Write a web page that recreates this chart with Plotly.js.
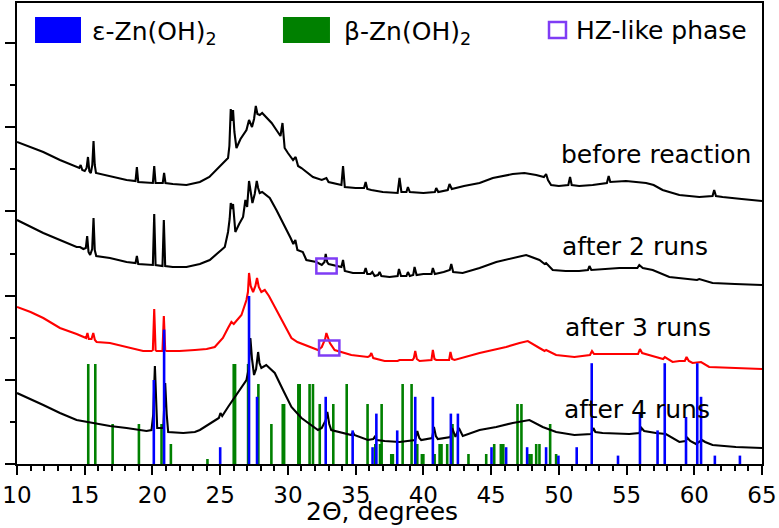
<!DOCTYPE html>
<html>
<head>
<meta charset="utf-8">
<script src="https://cdn.plot.ly/plotly-3.0.1.min.js"></script>
<style>html,body{margin:0;padding:0;background:#fff;}#chart{width:779px;height:528px;}</style>
</head>
<body>
<div id="chart"></div>
<script>
// ---- XRD patterns (2Θ in degrees, intensity in a.u.) ----
const beforeTheta = [10.0,11.0,11.94,13.17,14.4,14.6,14.7,14.82,15.0,15.14,15.24,15.34,15.45,15.56,15.65,15.74,15.83,16.86,18.09,18.75,18.85,18.95,20.03,20.13,20.23,20.76,20.86,20.96,21.5,22.51,23.5,24.2,24.73,25.2,25.58,25.68,25.78,25.87,25.95,26.05,26.2,26.5,26.94,27.13,27.35,27.5,27.63,27.75,27.92,28.1,28.4,28.8,29.15,29.45,29.6,29.7,29.76,30.0,30.38,30.57,30.75,31.0,31.36,31.5,31.85,32.5,32.84,33.0,33.33,33.95,34.07,34.2,35.0,35.62,35.74,35.86,36.16,37.0,38.1,38.24,38.38,38.75,38.86,39.0,40.0,40.85,40.95,41.1,41.8,41.93,42.1,43.0,44.15,45.13,46.6,47.46,48.33,48.9,49.06,49.2,49.43,50.0,50.7,50.83,50.95,51.5,52.5,53.55,53.68,53.8,54.96,56.44,57.0,57.66,58.9,60.37,61.35,61.47,61.6,62.09,63.5,65.0];
const beforeInt = [322,317,312,304,297,296,299,294,293,296,307,293,291,299,323,299,291,288,284,283,297,282,281,298,281,281,291,281,280,279,282,287,294,300,306,318,355,343,354,332,316,325,334,344,337,345,358,350,349,351,347,341,334,328,341,325,316,311,304,307,298,296,292,290,287,284,286,282,281,279,298,277,276,276,282,275,274,272,271,286,272,272,277,272,271,272,276,272,274,280,275,278,281,286,290,291,289,287,290,284,279,278,279,287,279,278,279,281,288,282,283,281,279,274,269,267,268,274,268,267,265,263];

const run2Theta = [10.0,11.0,11.94,13.17,14.4,14.65,14.9,15.08,15.18,15.28,15.4,15.55,15.65,15.74,15.85,16.86,18.09,18.75,18.85,18.95,20.03,20.13,20.23,20.74,20.84,20.94,21.5,22.51,23.5,24.23,25.34,25.58,25.7,25.78,25.86,25.95,26.05,26.12,26.4,26.69,26.86,26.99,27.13,27.25,27.38,27.55,27.7,27.8,27.92,28.1,28.4,28.66,29.15,29.5,29.89,30.2,30.4,30.55,30.7,31.1,31.36,31.7,32.1,32.5,32.7,32.79,32.9,33.0,33.3,33.95,34.07,34.2,34.8,35.62,35.74,35.86,36.1,36.23,36.4,36.65,36.77,36.9,37.5,38.1,38.2,38.35,38.75,38.86,39.0,39.25,39.35,39.5,40.0,40.6,40.7,40.85,41.5,41.95,42.06,42.2,42.9,44.15,45.38,47.1,47.59,48.57,48.95,49.06,49.55,50.5,51.5,52.15,52.26,52.4,53.5,54.47,55.8,55.94,56.2,56.93,58.16,59.5,60.2,60.37,61.35,63.0,65.0];
const run2Int = [244,237,231,224,217,217,215,216,228,212,209,215,246,214,208,206,202,201,208,200,199,250,199,198,244,198,197,197,200,204,217,232,245,261,255,260,245,232,240,247,264,257,283,270,261,270,283,276,271,272,269,266,254,245,234,226,220,224,214,212,204,203,202,199,202,210,202,200,199,197,204,193,191,191,196,190,190,192,188,189,192,188,187,188,195,188,188,192,188,189,197,189,190,190,196,190,192,194,200,192,191,196,202,208,209,204,200,201,194,193,193,194,198,194,195,196,196,199,196,194,187,185,184,185,181,180,179];

const run3Theta = [10.0,11.0,11.94,13.17,14.4,14.89,15.1,15.2,15.3,15.5,15.63,15.75,15.88,16.86,18.09,19.31,19.93,20.03,20.13,20.23,20.3,20.74,20.84,20.94,21.04,22.0,23.13,24.0,24.6,25.2,25.58,25.83,26.0,26.3,26.57,26.94,27.05,27.13,27.25,27.43,27.6,27.72,27.85,28.04,28.29,28.6,29.03,29.64,30.26,30.7,31.24,32.22,32.5,32.75,32.84,32.95,33.1,33.45,34.68,35.9,36.05,36.16,36.3,37.14,38.1,38.24,39.2,39.3,39.4,39.52,39.72,40.6,40.7,40.82,40.95,41.9,42.0,42.12,42.3,44.15,46.11,47.1,47.71,48.57,48.95,49.06,49.8,51.15,52.3,52.45,52.6,53.23,55.2,55.85,55.99,56.15,57.17,57.7,57.83,58.4,58.9,59.3,59.43,59.6,59.87,60.5,61.1,63.07,65.0];
const run3Int = [157,152,146,136,130,127,126,131,125,125,131,124,122,121,117,113,113,114,155,114,113,113,148,114,113,113,114,115,117,126,136,142,140,145,149,164,172,191,178,172,178,186,177,172,174,168,157,142,126,122,119,114,117,125,131,126,121,114,109,107,108,111,106,103,103,104,104,106,113,105,103,104,114,105,104,104,112,105,104,111,117,121,123,116,113,114,109,107,109,113,110,110,110,110,115,111,107,105,107,102,103,103,107,103,101,102,97,96,95];

const run4Theta = [10.0,11.0,11.94,13.17,14.4,15.63,16.86,18.09,19.56,19.93,20.06,20.18,20.27,20.35,20.8,20.94,21.05,21.16,22.27,23.13,23.5,24.11,24.9,25.02,25.15,25.58,26.32,26.94,27.1,27.23,27.35,27.5,27.65,27.8,27.9,28.04,28.4,29.03,29.64,30.26,31.0,32.22,32.5,32.8,32.91,33.05,33.2,34.0,34.68,34.8,34.9,35.9,36.3,36.4,36.55,37.14,38.24,39.4,39.55,39.7,39.84,40.65,40.78,40.92,41.07,42.0,42.13,42.37,42.62,42.91,44.15,45.38,46.6,47.83,48.81,49.8,51.15,52.4,52.55,52.7,53.23,55.2,55.95,56.1,56.3,57.17,57.9,58.9,59.35,59.5,59.7,60.12,60.57,60.8,61.35,63.07,65.0];
const run4Int = [71,65,59,51,44,41,38,36,33,34,50,98,60,36,36,81,50,32,31,32,34,39,46,51,48,57,71,84,95,126,105,89,95,112,101,96,99,91,74,57,46,34,36,44,52,40,34,31,29,32,29,24,25,27,24,23,22,24,33,26,24,26,37,28,25,27,36,27,36,28,34,37,41,44,37,32,29,30,36,32,31,30,31,36,33,31,30,22,23,26,23,20,24,22,19,17,16];

// ---- reference stick patterns (2Θ, relative intensity %) ----
const epsTheta = [20.10,20.86,25.00,27.13,27.72,32.79,34.78,36.25,36.53,38.07,39.40,40.70,42.03,42.55,45.03,46.11,47.66,49.06,49.97,51.32,52.43,54.37,55.99,57.29,57.82,59.39,60.22,60.50,61.52,63.37];
const epsRel   = [50,80,10,100,40,40,20,10,30,20,40,40,30,30,10,10,10,10,5,10,60,5,30,20,60,28,60,40,5,5];
const betaTheta = [15.26,15.78,17.06,19.00,20.67,21.36,24.06,26.00,26.10,27.06,27.82,28.78,29.62,29.72,30.77,30.87,31.60,31.85,32.35,33.35,34.34,35.88,36.45,36.80,36.92,37.63,37.75,38.47,39.13,39.55,39.89,40.00,40.83,41.20,41.34,41.76,42.15,43.33,44.64,45.23,45.72,45.90,46.95,47.24,47.83,47.98,48.33,48.57,49.36,49.80];
const betaRel   = [100,100,40,40,40,20,5,100,100,100,80,40,60,60,80,80,80,80,60,60,80,60,20,20,60,10,10,80,80,20,10,10,10,20,20,20,40,10,10,20,20,20,60,60,10,10,20,20,40,10];

// HZ-like phase reflection marked on the patterns
const hzTheta = [32.85, 33.05];
const hzInt   = [198, 116];

const patternLabels = ['before reaction','after 2 runs','after 3 runs','after 4 runs'];
const legendNames = ['ε-Zn(OH)<sub>2</sub>','β-Zn(OH)<sub>2</sub>','HZ-like phase'];
const xTickVals = [10,15,20,25,30,35,40,45,50,55,60,65];
const xTitle = '2Θ, degrees';

// ---- build ----
const FONT = 'DejaVu Sans';
const EPS_SCALE = 1.68, BETA_SCALE = 1.0;
const BLUE = '#0000ff', GREEN = '#008000', PURPLE = '#7f3cf5';

function sticks(pos, rel, scale){
  const x=[], y=[];
  pos.forEach((p,i)=>{ x.push(p,p,null); y.push(0, rel[i]*scale, null); });
  return {x, y};
}
const b = sticks(betaTheta, betaRel, BETA_SCALE);
const e = sticks(epsTheta, epsRel, EPS_SCALE);

const traces = [
  {x:b.x, y:b.y, mode:'lines', line:{color:GREEN, width:2.6}, hoverinfo:'skip'},
  {x:beforeTheta, y:beforeInt, mode:'lines', line:{color:'#000', width:2.1}},
  {x:run2Theta, y:run2Int, mode:'lines', line:{color:'#000', width:2.1}},
  {x:run3Theta, y:run3Int, mode:'lines', line:{color:'#ff0000', width:2.1}},
  {x:run4Theta, y:run4Int, mode:'lines', line:{color:'#000', width:2.1}},
  {x:e.x, y:e.y, mode:'lines', line:{color:BLUE, width:2.6}, hoverinfo:'skip'}
];

const shapes = [];
hzTheta.forEach((t,i)=>{
  shapes.push({type:'rect', xref:'x', yref:'y', x0:t-0.75, x1:t+0.75, y0:hzInt[i]-7.5, y1:hzInt[i]+7.5,
    line:{color:PURPLE, width:2.5}, fillcolor:'rgba(0,0,0,0)'});
});
// legend symbols (paper coords)
shapes.push({type:'rect', xref:'paper', yref:'paper', x0:0.0242, x1:0.0859, y0:0.9132, y1:0.9696, fillcolor:BLUE, line:{width:0}});
shapes.push({type:'rect', xref:'paper', yref:'paper', x0:0.357, x1:0.4201, y0:0.9132, y1:0.9696, fillcolor:GREEN, line:{width:0}});
shapes.push({type:'rect', xref:'paper', yref:'paper', x0:0.7141, x1:0.7369, y0:0.9241, y1:0.9588, fillcolor:'rgba(0,0,0,0)', line:{color:PURPLE, width:2.5}});

const labelPos = [[64.34,310],[61.16,217.5],[61.38,136.5],[61.3,55]];
const annotations = patternLabels.map((t,i)=>({
  x:labelPos[i][0], y:labelPos[i][1], xref:'x', yref:'y', text:t, showarrow:false,
  xanchor:'right', yanchor:'middle', font:{family:FONT, size:25, color:'#000'}
}));
const legPos = [[0.098,0.935],[0.4362,0.935],[0.7477,0.941]];
legendNames.forEach((t,i)=>annotations.push({
  x:legPos[i][0], y:legPos[i][1], xref:'paper', yref:'paper', text:t, showarrow:false,
  xanchor:'left', yanchor:'middle', font:{family:FONT, size:25, color:'#000'}
}));
// x-axis title, placed as in the original figure
annotations.push({x:0.49, y:-0.104, xref:'paper', yref:'paper', text:xTitle, showarrow:false,
  xanchor:'center', yanchor:'middle', font:{family:FONT, size:25, color:'#000'}});

const layout = {
  width:779, height:528,
  margin:{l:17, r:17, t:3, b:64, pad:0},
  paper_bgcolor:'#fff', plot_bgcolor:'#fff',
  showlegend:false,
  xaxis:{range:[10,65], tickvals:xTickVals, ticktext:xTickVals.map(String), ticks:'outside', ticklen:9, tickwidth:2, tickcolor:'#000',
    showline:true, linewidth:2, linecolor:'#000', mirror:true, showgrid:false, zeroline:false, automargin:false,
    tickfont:{family:FONT, size:23, color:'#000'},
    minor:{dtick:1, tick0:10, ticks:'outside', ticklen:5, tickwidth:2, tickcolor:'#000', showgrid:false}},
  yaxis:{range:[0,461], tick0:0, dtick:84.2, ticks:'outside', ticklen:10, tickwidth:2, tickcolor:'#000',
    showticklabels:false, showline:true, linewidth:2, linecolor:'#000', mirror:true, showgrid:false, zeroline:false, automargin:false,
    minor:{dtick:42.1, tick0:0, ticks:'outside', ticklen:5, tickwidth:2, tickcolor:'#000', showgrid:false}},
  shapes, annotations
};
Plotly.newPlot('chart', traces, layout, {displayModeBar:false, staticPlot:true});
</script>
</body>
</html>
